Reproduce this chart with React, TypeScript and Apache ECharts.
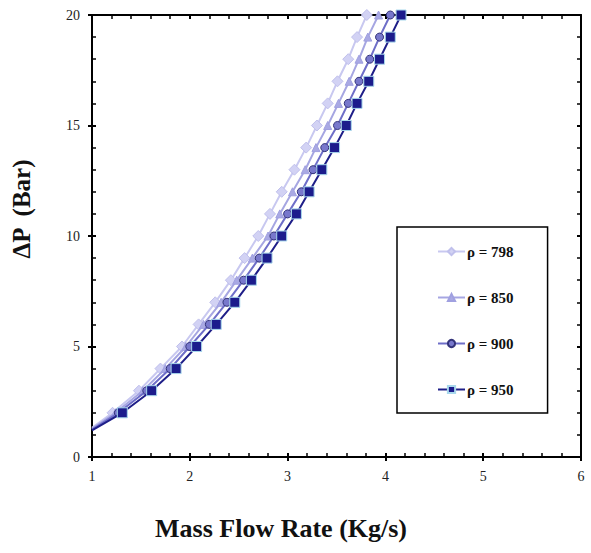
import React, { useEffect, useRef } from "react";
import * as echarts from "echarts";

// Pressure drop levels (Bar) at which each curve is sampled
const dpLevels = [2, 3, 4, 5, 6, 7, 8, 9, 10, 11, 12, 13, 14, 15, 16, 17, 18, 19, 20];

// Mass flow rate (Kg/s) for each density
const flow798 = [1.21, 1.48, 1.70, 1.92, 2.09, 2.26, 2.42, 2.56, 2.70, 2.82, 2.94, 3.07, 3.19, 3.30, 3.41, 3.51, 3.62, 3.71, 3.81];
const flow850 = [1.24, 1.52, 1.75, 1.96, 2.14, 2.32, 2.48, 2.64, 2.80, 2.92, 3.05, 3.18, 3.29, 3.41, 3.52, 3.63, 3.73, 3.82, 3.93];
const flow900 = [1.27, 1.56, 1.80, 2.00, 2.20, 2.38, 2.55, 2.71, 2.86, 3.00, 3.14, 3.26, 3.38, 3.51, 3.62, 3.73, 3.84, 3.94, 4.05];
const flow950 = [1.31, 1.61, 1.86, 2.07, 2.27, 2.46, 2.63, 2.79, 2.94, 3.09, 3.22, 3.35, 3.48, 3.60, 3.71, 3.83, 3.94, 4.05, 4.16];

// Curve start at the left edge of the plot (no marker)
const startFlow = 1;
const startDp = [1.32, 1.28, 1.24, 1.2];

const names = ["ρ = 798", "ρ = 850", "ρ = 900", "ρ = 950"];
const xTitle = "Mass Flow Rate (Kg/s)";
const yTitle = "ΔP  (Bar)";

const SERIF = "Times New Roman, Liberation Serif, DejaVu Serif, serif";

export default function App() {
  const ref = useRef<HTMLDivElement>(null);

  useEffect(() => {
    if (!ref.current) return;
    const chart = echarts.init(ref.current, null, { renderer: "svg" });

    const flows = [flow798, flow850, flow900, flow950];
    const styles = [
      { line: "#c8c8f0", fill: "#d2d2f4", border: "#c0c0ec", symbol: "diamond", size: 11 },
      { line: "#a6a6e2", fill: "#a9a9e4", border: "#a0a0e0", symbol: "triangle", size: 8 },
      { line: "#6e6ec8", fill: "#7878cc", border: "#33337a", symbol: "circle", size: 8 },
      { line: "#1e1e88", fill: "#1c1c8c", border: "#a8d8ec", symbol: "rect", size: 10 },
    ];

    const series = flows.map((f, i) => ({
      name: names[i],
      type: "line",
      xAxisIndex: 0,
      yAxisIndex: 0,
      symbol: styles[i].symbol,
      symbolSize: styles[i].size,
      lineStyle: { color: styles[i].line, width: 2 },
      itemStyle: { color: styles[i].fill, borderColor: styles[i].border, borderWidth: 1 },
      data: [
        { value: [startFlow, startDp[i]], symbol: "none" },
        ...f.map((x, k) => [x, dpLevels[k]]),
      ],
      z: 2 + i,
    }));

    const axisLine = { show: true, onZero: false, lineStyle: { color: "#000", width: 2 } };
    const label = { color: "#222", fontFamily: SERIF, fontSize: 14 };
    const titleStyle = { fontFamily: SERIF, fontWeight: "bold", fill: "#111" };

    chart.setOption({
      animation: false,
      backgroundColor: "#fff",
      grid: { left: 92, right: 10, top: 15, bottom: 96, containLabel: false },
      legend: {
        orient: "vertical",
        left: 397,
        top: 227,
        padding: [17, 34, 16, 40],
        itemGap: 31,
        itemWidth: 27,
        itemHeight: 9,
        borderColor: "#000",
        borderWidth: 1.5,
        textStyle: { fontFamily: SERIF, fontSize: 15, fontWeight: "bold", color: "#111", padding: [0, 0, 0, -3] },
        data: names,
      },
      graphic: [
        {
          type: "text",
          x: 281,
          y: 528,
          style: { ...titleStyle, text: xTitle, fontSize: 26, textAlign: "center", textVerticalAlign: "middle" },
        },
        {
          type: "text",
          x: 21,
          y: 209,
          rotation: Math.PI / 2,
          style: { ...titleStyle, text: yTitle, fontSize: 25, textAlign: "center", textVerticalAlign: "middle" },
        },
      ],
      xAxis: [
        {
          type: "value",
          position: "bottom",
          min: 1,
          max: 6,
          interval: 1,
          axisLine,
          axisTick: { show: true, inside: false, length: 4, lineStyle: { color: "#000", width: 2 } },
          axisLabel: { ...label, margin: 12 },
          splitLine: { show: false },
        },
        {
          type: "value",
          position: "bottom",
          min: 1,
          max: 6,
          interval: 1,
          axisLine,
          axisTick: { show: true, inside: true, length: 4, lineStyle: { color: "#000", width: 2 } },
          minorTick: { show: true, splitNumber: 5, length: 4, lineStyle: { color: "#000", width: 1.5 } },
          axisLabel: { show: false },
          splitLine: { show: false },
        },
        {
          type: "value",
          position: "top",
          min: 1,
          max: 6,
          interval: 1,
          axisLine,
          axisTick: { show: true, inside: true, length: 4, lineStyle: { color: "#000", width: 2 } },
          minorTick: { show: true, splitNumber: 5, length: 4, lineStyle: { color: "#000", width: 1.5 } },
          axisLabel: { show: false },
          splitLine: { show: false },
        },
      ],
      yAxis: [
        {
          type: "value",
          position: "left",
          min: 0,
          max: 20,
          interval: 5,
          axisLine,
          axisTick: { show: true, inside: false, length: 4, lineStyle: { color: "#000", width: 2 } },
          axisLabel: { ...label, margin: 12 },
          splitLine: { show: false },
        },
        {
          type: "value",
          position: "left",
          min: 0,
          max: 20,
          interval: 5,
          axisLine,
          axisTick: { show: true, inside: true, length: 4, lineStyle: { color: "#000", width: 2 } },
          minorTick: { show: true, splitNumber: 5, length: 4, lineStyle: { color: "#000", width: 1.5 } },
          axisLabel: { show: false },
          splitLine: { show: false },
        },
        {
          type: "value",
          position: "right",
          min: 0,
          max: 20,
          interval: 5,
          axisLine,
          axisTick: { show: true, inside: true, length: 4, lineStyle: { color: "#000", width: 2 } },
          minorTick: { show: true, splitNumber: 5, length: 4, lineStyle: { color: "#000", width: 1.5 } },
          axisLabel: { show: false },
          splitLine: { show: false },
        },
      ],
      series,
    });

    return () => chart.dispose();
  }, []);

  return <div ref={ref} style={{ width: 591, height: 553, position: "absolute", left: 0, top: 0 }} />;
}
